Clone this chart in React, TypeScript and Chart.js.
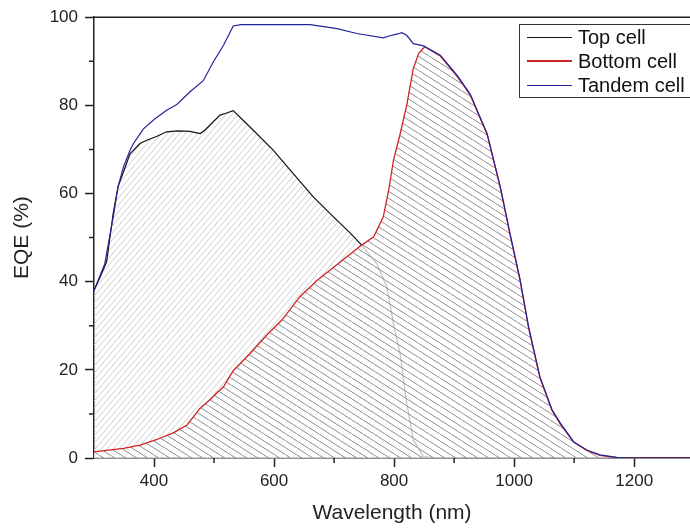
import React, { useEffect, useRef } from "react";
import { Chart, registerables } from "chart.js";
Chart.register(...registerables);

const seriesLabels = ["Top cell", "Bottom cell", "Tandem cell"];

const topWl = [300, 310, 321, 332, 340, 352, 360, 377, 390, 405, 421, 440, 460, 477, 485, 510, 520, 532, 565, 599, 627, 665, 699, 727, 746, 771, 788, 799, 810, 821, 832, 849, 870, 1293];
const topEqe = [38, 41, 44.5, 55.5, 61.5, 66, 69, 71.4, 72.2, 73, 74, 74.2, 74.1, 73.6, 74.4, 77.8, 78.2, 78.8, 74.4, 69.8, 65.3, 59.3, 54.7, 51, 48.3, 44.1, 38.8, 30.5, 23.7, 12.5, 4.1, 0.3, 0, 0];

const bottomWl = [300, 349, 377, 405, 432, 455, 477, 493, 516, 532, 560, 588, 613, 643, 671, 716, 746, 766, 782, 791, 799, 810, 821, 832, 841, 851, 877, 905, 927, 955, 977, 993, 1010, 1024, 1043, 1063, 1077, 1099, 1121, 1143, 1171, 1190, 1293];
const bottomEqe = [1.4, 2.2, 2.9, 4.2, 5.7, 7.5, 11.3, 13.2, 16.2, 19.8, 23.7, 27.9, 31.3, 36.6, 40.2, 45.1, 48.3, 50.2, 54.7, 60.8, 67.6, 73.5, 80, 88.4, 91.8, 93.3, 91.2, 86.6, 82.3, 73.4, 61.3, 50.8, 40.2, 29.6, 18.2, 10.8, 7.7, 3.6, 1.7, 0.6, 0.1, 0, 0];

const tandemWl = [300, 318, 332, 340, 349, 360, 366, 377, 382, 400, 421, 438, 460, 482, 499, 516, 532, 545, 593, 627, 660, 705, 738, 782, 793, 806, 813, 821, 832, 849, 877, 905, 927, 955, 977, 993, 1010, 1024, 1043, 1063, 1077, 1099, 1121, 1143, 1171, 1190, 1293];
const tandemEqe = [38, 44.1, 54.7, 61.5, 66, 69.8, 71.4, 73.6, 74.6, 76.8, 78.9, 80.2, 83.1, 85.6, 89.9, 93.7, 98, 98.3, 98.3, 98.3, 98.3, 97.4, 96.3, 95.3, 95.8, 96.2, 96.5, 95.9, 94, 93.5, 91.4, 86.8, 82.5, 73.6, 61.5, 51, 40.4, 29.8, 18.4, 11, 7.9, 3.7, 1.8, 0.7, 0.15, 0, 0];

const xMajorTicks = [400, 600, 800, 1000, 1200];
const xMinorTicks = [500, 700, 900, 1100];
const yMajorTicks = [0, 20, 40, 60, 80, 100];
const yMinorTicks = [10, 30, 50, 70, 90];

const FONT = "'Liberation Sans', Arial, sans-serif";
const lineColors = ["#111111", "#cc2424", "#24249a"];
const lineWidths = [1.2, 1.3, 1.2];

function makePattern(ctx: CanvasRenderingContext2D, dir: "up" | "down", color: string, bg: string | null, w: number, h: number) {
  const c = document.createElement("canvas");
  c.width = w;
  c.height = h;
  const g = c.getContext("2d")!;
  if (bg) {
    g.fillStyle = bg;
    g.fillRect(0, 0, w, h);
  }
  g.strokeStyle = color;
  g.lineWidth = 1;
  for (let k = -1; k <= 1; k++) {
    g.beginPath();
    if (dir === "down") {
      g.moveTo(k * w, 0);
      g.lineTo(k * w + w, h);
    } else {
      g.moveTo(k * w, h);
      g.lineTo(k * w + w, 0);
    }
    g.stroke();
  }
  return ctx.createPattern(c, "repeat")!;
}

const framePlugin = {
  id: "frame",
  afterDraw(chart: any) {
    const { ctx, chartArea, scales } = chart;
    const xs = scales.x;
    const ys = scales.y;
    ctx.save();
    ctx.strokeStyle = "#222";
    ctx.lineWidth = 1.5;
    ctx.beginPath();
    ctx.moveTo(chartArea.left, chartArea.top);
    ctx.lineTo(chartArea.right, chartArea.top);
    ctx.stroke();
    ctx.beginPath();
    for (const v of yMinorTicks) {
      const y = ys.getPixelForValue(v);
      ctx.moveTo(chartArea.left, y);
      ctx.lineTo(chartArea.left - 5, y);
    }
    for (const v of xMinorTicks) {
      const x = xs.getPixelForValue(v);
      ctx.moveTo(x, chartArea.bottom);
      ctx.lineTo(x, chartArea.bottom + 5);
    }
    ctx.stroke();

    // legend
    const bx = 519.5, by = 24.5, bw = 200, bh = 73;
    ctx.fillStyle = "#fff";
    ctx.fillRect(bx, by, bw, bh);
    ctx.strokeStyle = "#333";
    ctx.lineWidth = 1;
    ctx.strokeRect(bx, by, bw, bh);
    ctx.font = `20px ${FONT}`;
    ctx.textBaseline = "middle";
    ctx.textAlign = "left";
    chart.data.datasets.forEach((ds: any, i: number) => {
      const y = 37 + i * 24;
      ctx.strokeStyle = ds.borderColor;
      ctx.lineWidth = i === 1 ? 2 : 1;
      ctx.beginPath();
      ctx.moveTo(527, i === 1 ? y : y + 0.5);
      ctx.lineTo(572, i === 1 ? y : y + 0.5);
      ctx.stroke();
      ctx.fillStyle = "#111";
      ctx.fillText(ds.label, 578, y + 1);
    });
    ctx.restore();
  },
};

export default function App() {
  const ref = useRef<HTMLCanvasElement>(null);
  useEffect(() => {
    document.body.style.margin = "0";
    const ctx = ref.current!.getContext("2d")!;
    const topPat = makePattern(ctx, "up", "#cdcdcd", null, 6, 7);
    const botPat = makePattern(ctx, "down", "#8e8e8e", "rgba(255,255,255,0.75)", 11, 7);
    const chart = new Chart(ctx, {
      type: "line",
      data: {
        datasets: [
          {
            label: seriesLabels[0],
            data: topWl.map((x, i) => ({ x, y: topEqe[i] })),
            borderColor: lineColors[0],
            borderWidth: lineWidths[0],
            backgroundColor: topPat,
            fill: "origin",
            pointRadius: 0,
            tension: 0,
            order: 3,
          },
          {
            label: seriesLabels[1],
            data: bottomWl.map((x, i) => ({ x, y: bottomEqe[i] })),
            borderColor: lineColors[1],
            borderWidth: lineWidths[1],
            backgroundColor: botPat,
            fill: "origin",
            pointRadius: 0,
            tension: 0,
            order: 2,
          },
          {
            label: seriesLabels[2],
            data: tandemWl.map((x, i) => ({ x, y: tandemEqe[i] })),
            borderColor: lineColors[2],
            borderWidth: lineWidths[2],
            backgroundColor: "transparent",
            fill: false,
            pointRadius: 0,
            tension: 0,
            order: 1,
          },
        ],
      } as any,
      options: {
        animation: false,
        responsive: false,
        layout: { padding: { top: 17, right: 0, left: 0, bottom: 0 } },
        plugins: { legend: { display: false }, tooltip: { enabled: false } },
        scales: {
          x: {
            type: "linear",
            min: 300,
            max: 1293,
            afterBuildTicks: (s: any) => {
              s.ticks = xMajorTicks.map((v) => ({ value: v }));
            },
            afterFit: (s: any) => {
              s.height = 72;
            },
            grid: { drawOnChartArea: false, tickLength: 9, tickColor: "#222", tickWidth: 1.5 },
            border: { color: "#222", width: 1.5 },
            ticks: { font: { family: FONT, size: 17 }, color: "#222", padding: 4, maxRotation: 0, callback: (v: any) => String(v) },
            title: { display: true, text: "Wavelength (nm)", font: { family: FONT, size: 21 }, color: "#222", padding: { top: 0, bottom: 4 } },
          },
          y: {
            min: 0,
            max: 100,
            afterBuildTicks: (s: any) => {
              s.ticks = yMajorTicks.map((v) => ({ value: v }));
            },
            afterFit: (s: any) => {
              s.width = 94;
            },
            grid: { drawOnChartArea: false, tickLength: 9, tickColor: "#222", tickWidth: 1.5 },
            border: { color: "#222", width: 1.5 },
            ticks: { font: { family: FONT, size: 17 }, color: "#222", padding: 7, callback: (v: any) => String(v) },
            title: { display: true, text: "EQE (%)", font: { family: FONT, size: 21 }, color: "#222", padding: { top: 10, bottom: 0 } },
          },
        },
      } as any,
      plugins: [framePlugin],
    });
    return () => chart.destroy();
  }, []);
  return (
    <div style={{ position: "absolute", left: 0, top: 0, width: 690, height: 530 }}>
      <canvas ref={ref} width={690} height={530} style={{ display: "block" }} />
    </div>
  );
}
